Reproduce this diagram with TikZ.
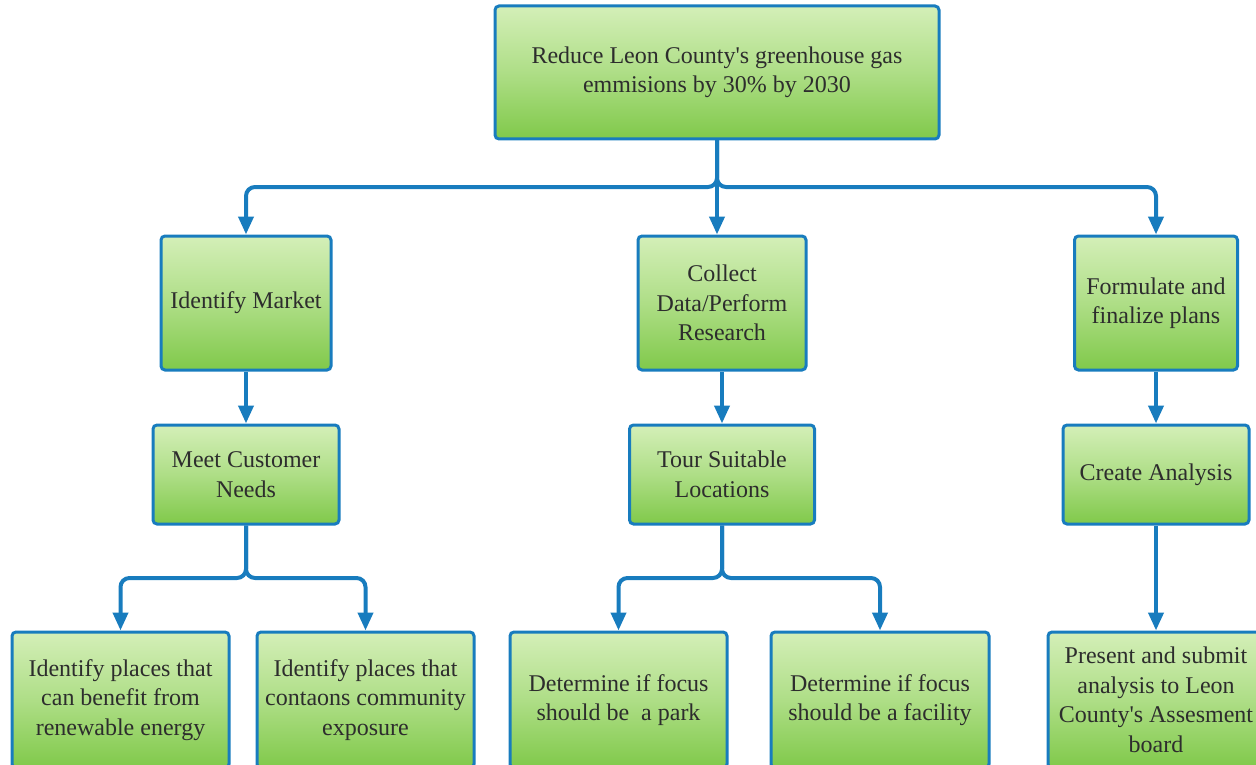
\documentclass[tikz,border=0pt]{standalone}
\usepackage{fontspec}
\setmainfont{Liberation Serif}
\usetikzlibrary{arrows.meta,shadings}
\definecolor{boxblue}{RGB}{24,124,190}
\definecolor{gtop}{RGB}{212,239,184}
\definecolor{gbot}{RGB}{128,201,74}
\definecolor{txt}{RGB}{45,45,45}
\newcommand{\apos}{\textquotesingle}
\tikzset{
  box/.style={draw=boxblue, line width=3pt, rounded corners=4pt, top color=gtop, bottom color=gbot, middle color={gtop!55!gbot}, align=center, text=txt, font=\fontsize{24}{29.5}\selectfont, inner sep=0pt},
  conn/.style={draw=boxblue, line width=4pt, rounded corners=9pt, -{Triangle[length=18pt,width=15pt]}},
}
\begin{document}
\begin{tikzpicture}[x=1pt,y=-1pt]
\useasboundingbox (0,0) rectangle (1256,765);
% level 1
\node[box, minimum width=444, minimum height=133] (top) at (717,72.5) {Reduce Leon County\apos s greenhouse gas\\emmisions by 30\% by 2030};
% level 2
\node[box, minimum width=170, minimum height=134] (mkt) at (246,303) {Identify Market};
\node[box, minimum width=168, minimum height=134] (col) at (722,303) {Collect\\Data/Perform\\Research};
\node[box, minimum width=163, minimum height=134] (form) at (1156,303) {Formulate and\\finalize plans};
% level 3
\node[box, minimum width=186, minimum height=99] (meet) at (246,474.5) {Meet Customer\\Needs};
\node[box, minimum width=185, minimum height=99] (tour) at (722,474.5) {Tour Suitable\\Locations};
\node[box, minimum width=186, minimum height=99] (ana) at (1156,474.5) {Create Analysis};
% level 4
\node[box, minimum width=217, minimum height=136] (p1) at (120.5,700) {Identify places that\\can benefit from\\renewable energy};
\node[box, minimum width=217, minimum height=136] (p2) at (365.5,700) {Identify places that\\contaons community\\exposure};
\node[box, minimum width=217, minimum height=136] (d1) at (618.5,700) {Determine if focus\\should be~ a park};
\node[box, minimum width=218, minimum height=136] (d2) at (880,700) {Determine if focus\\should be a facility};
\node[box, minimum width=216, minimum height=136] (pr) at (1156,700) {Present and submit\\analysis to Leon\\County\apos s Assesment\\board};
% bus coordinates
\coordinate (b1) at (717,187);
\coordinate (b2) at (246,578);
\coordinate (b3) at (722,578);
% connectors
\draw[conn] (top.south) -- (b1) -| (mkt.north);
\draw[conn] (top.south) -- (b1) -| (form.north);
\draw[conn] (top.south) -- (b1 |- col.north);
\draw[conn] (mkt.south) -- (meet.north);
\draw[conn] (col.south) -- (tour.north);
\draw[conn] (form.south) -- (ana.north);
\draw[conn] (meet.south) -- (b2) -| (p1.north);
\draw[conn] (meet.south) -- (b2) -| (p2.north);
\draw[conn] (tour.south) -- (b3) -| (d1.north);
\draw[conn] (tour.south) -- (b3) -| (d2.north);
\draw[conn] (ana.south) -- (pr.north);
\end{tikzpicture}
\end{document}
